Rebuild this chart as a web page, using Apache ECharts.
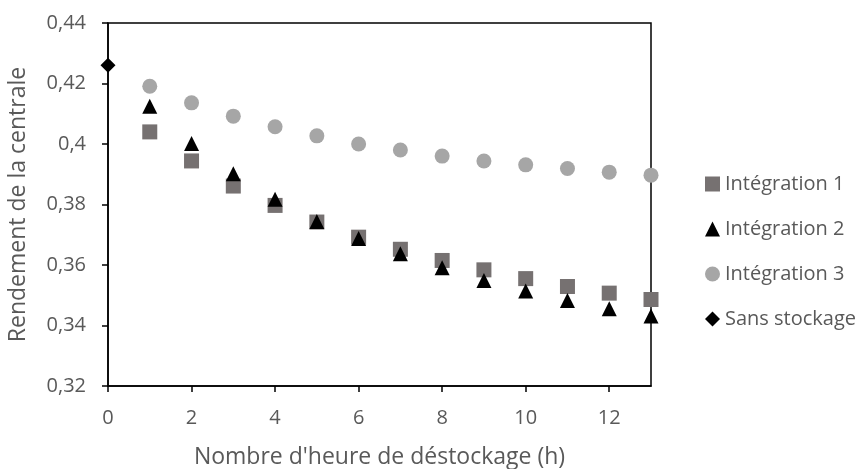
<!DOCTYPE html>
<html>
<head>
<meta charset="utf-8">
<script src="https://cdn.jsdelivr.net/npm/echarts@6/dist/echarts.min.js"></script>
<style>
html,body{margin:0;padding:0;background:#fff;}
#chart{width:860px;height:469px;}
</style>
</head>
<body>
<div id="chart"></div>
<script>
const hours = [1, 2, 3, 4, 5, 6, 7, 8, 9, 10, 11, 12, 13];
const integration1 = [0.4040, 0.3944, 0.3861, 0.3797, 0.3742, 0.3692, 0.3652, 0.3615, 0.3584, 0.3555, 0.3529, 0.3507, 0.3486];
const integration2 = [0.4125, 0.4002, 0.3902, 0.3817, 0.3744, 0.3688, 0.3637, 0.3591, 0.3549, 0.3514, 0.3483, 0.3455, 0.3431];
const integration3 = [0.4191, 0.4136, 0.4092, 0.4057, 0.4027, 0.4000, 0.3980, 0.3960, 0.3944, 0.3931, 0.3919, 0.3907, 0.3897];
const sansStockageHours = [0];
const sansStockage = [0.426];
const xTicks = [0, 2, 4, 6, 8, 10, 12];
const seriesNames = ['Intégration 1', 'Intégration 2', 'Intégration 3', 'Sans stockage'];
const xTitle = "Nombre d'heure de déstockage (h)";
const yTitle = 'Rendement de la centrale';

const pair = (xs, ys) => xs.map((x, i) => [x, ys[i]]);
const FONT = 'Open Sans';
const TXT = '#595959';

const chart = echarts.init(document.getElementById('chart'), null, {renderer: 'canvas'});
chart.setOption({
  animation: false,
  backgroundColor: '#fff',
  grid: {left: 108, right: 209, top: 23, bottom: 83, show: true, borderColor: '#000', borderWidth: 1.5,
         containLabel: false, outerBoundsMode: 'none'},
  legend: {
    orient: 'vertical', left: 700, top: 169,
    itemWidth: 15, itemHeight: 15, itemGap: 25,
    textStyle: {fontFamily: FONT, fontSize: 20, color: TXT, lineHeight: 20},
    data: seriesNames
  },
  xAxis: {
    type: 'value', min: 0, max: 13, interval: 2,
    name: xTitle, nameLocation: 'middle', nameGap: 60,
    nameTextStyle: {fontFamily: FONT, fontSize: 23, color: TXT},
    axisLine: {show: true, lineStyle: {color: '#000', width: 1.5}},
    axisTick: {show: true, length: 6, lineStyle: {color: '#000', width: 1.5}, customValues: xTicks},
    axisLabel: {fontFamily: FONT, fontSize: 20, color: TXT, margin: 22, customValues: xTicks},
    splitLine: {show: false}
  },
  yAxis: {
    type: 'value', min: 0.32, max: 0.44, interval: 0.02,
    name: yTitle, nameLocation: 'middle', nameGap: 78,
    nameTextStyle: {fontFamily: FONT, fontSize: 23, color: TXT},
    axisLine: {show: true, lineStyle: {color: '#000', width: 1.5}},
    axisTick: {show: true, length: 6, lineStyle: {color: '#000', width: 1.5}},
    axisLabel: {fontFamily: FONT, fontSize: 20, color: TXT, margin: 22,
      formatter: v => (Math.round(v * 100) / 100).toString().replace('.', ',')},
    splitLine: {show: false}
  },
  series: [
    {name: seriesNames[0], type: 'scatter', symbol: 'rect', symbolSize: 15,
     itemStyle: {color: '#767171', opacity: 1}, data: pair(hours, integration1)},
    {name: seriesNames[1], type: 'scatter', symbol: 'triangle', symbolSize: 15,
     itemStyle: {color: '#000', opacity: 1}, data: pair(hours, integration2)},
    {name: seriesNames[2], type: 'scatter', symbol: 'circle', symbolSize: 15,
     itemStyle: {color: '#a6a6a6', opacity: 1}, data: pair(hours, integration3)},
    {name: seriesNames[3], type: 'scatter', symbol: 'diamond', symbolSize: 15,
     itemStyle: {color: '#000', opacity: 1}, data: pair(sansStockageHours, sansStockage)}
  ]
});
</script>
</body>
</html>
